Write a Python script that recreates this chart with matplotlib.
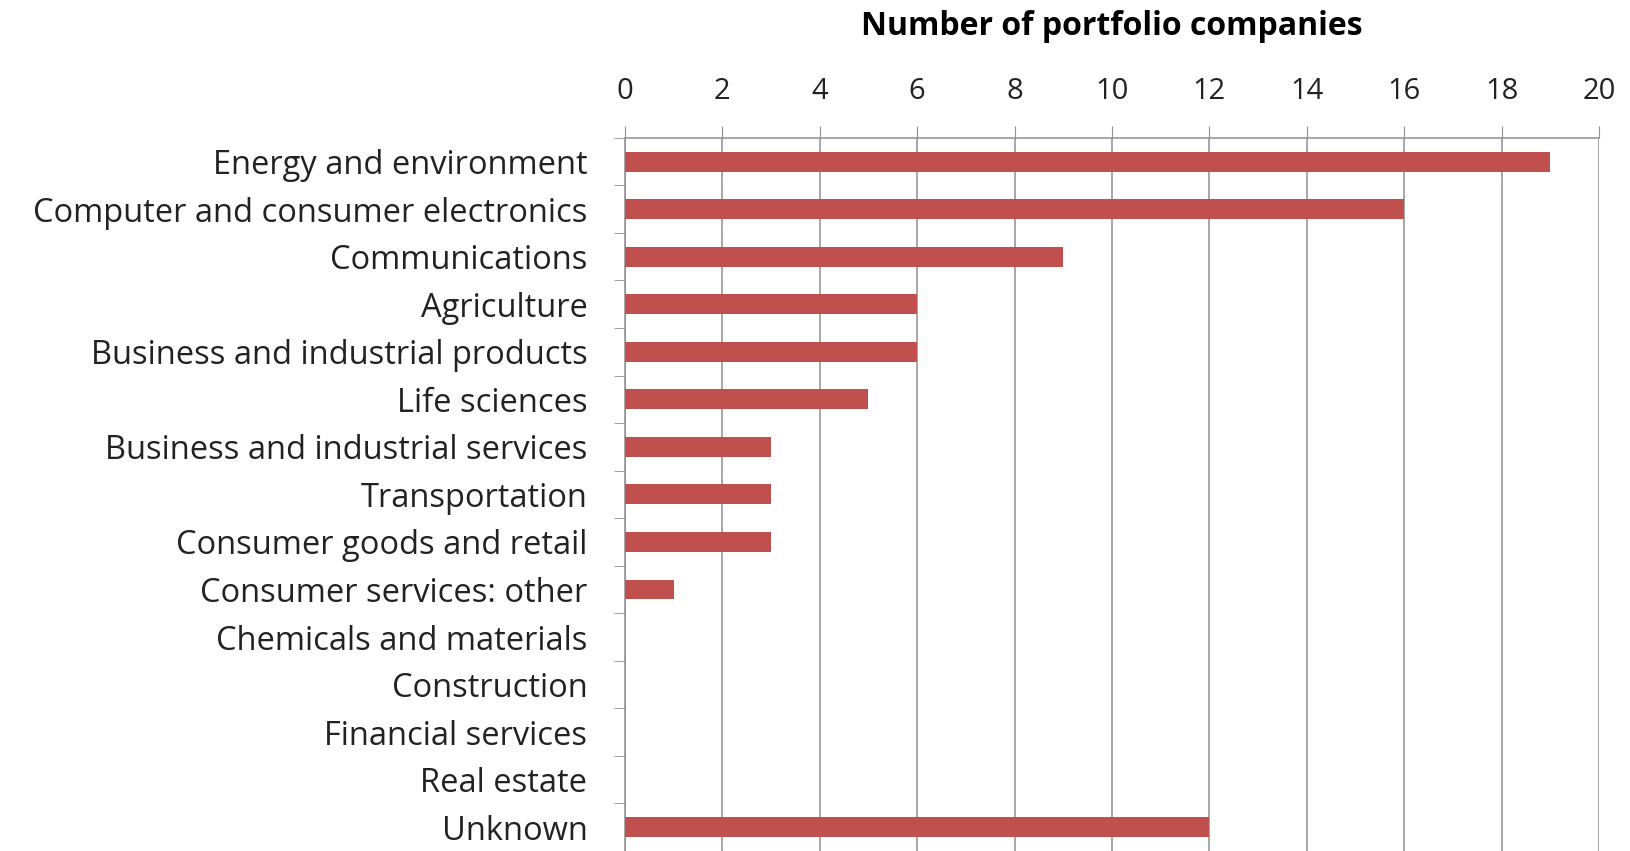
import numpy as np
import matplotlib.pyplot as plt

categories = ["Energy and environment", "Computer and consumer electronics",
              "Communications", "Agriculture", "Business and industrial products",
              "Life sciences", "Business and industrial services", "Transportation",
              "Consumer goods and retail", "Consumer services: other",
              "Chemicals and materials", "Construction", "Financial services",
              "Real estate", "Unknown"]
counts = [19, 16, 9, 6, 6, 5, 3, 3, 3, 1, 0, 0, 0, 0, 12]
x_ticks = [0, 2, 4, 6, 8, 10, 12, 14, 16, 18, 20]

plt.rcParams['font.family'] = ['Open Sans', 'DejaVu Sans']

fig = plt.figure(figsize=(16.3, 8.51), dpi=100)
ax = fig.add_axes([0.3834, 0.0, 0.5976, 0.838])

y = np.arange(len(categories))
ax.barh(y, counts, height=0.42, color='#C0504D', zorder=3)

ax.set_ylim(len(categories) - 0.5, -0.5)
ax.set_xlim(0, 20)
ax.set_xticks(x_ticks)
ax.set_xticklabels([str(t) for t in x_ticks], fontsize=21, color='#222222')
ax.xaxis.tick_top()
ax.xaxis.set_label_position('top')
ax.set_xlabel("Number of portfolio companies", fontsize=23, fontweight='bold', labelpad=30)
ax.tick_params(axis='x', direction='out', length=9, color='#909090', pad=14)

ax.set_yticks(y)
ax.set_yticklabels(categories, fontsize=23.5, color='#222222')
ax.tick_params(axis='y', which='major', length=0, pad=27)
ax.set_yticks(np.arange(-0.5, len(categories), 1), minor=True)
ax.tick_params(axis='y', which='minor', length=8, color='#909090', direction='out')

ax.grid(axis='x', color='#909090', linewidth=1.1, zorder=0)
for s in ['right', 'bottom']:
    ax.spines[s].set_visible(False)
for s in ['left', 'top']:
    ax.spines[s].set_color('#909090')
    ax.spines[s].set_linewidth(1.1)

fig.savefig("out.png", dpi=100)
